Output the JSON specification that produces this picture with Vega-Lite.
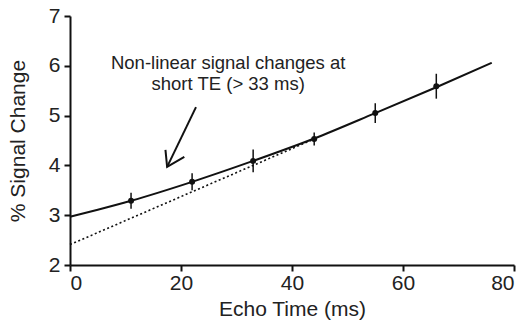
{
  "$schema": "https://vega.github.io/schema/vega-lite/v6.json",
  "width": 444,
  "height": 249,
  "autosize": {"type": "none"},
  "padding": {"left": 70, "top": 16, "right": 10, "bottom": 66},
  "background": "white",
  "config": {
    "view": {"stroke": null},
    "font": "Liberation Sans",
    "axis": {
      "grid": false,
      "domainColor": "#111",
      "domainWidth": 2,
      "tickColor": "#111",
      "tickWidth": 2,
      "tickSize": 6,
      "labelFont": "Liberation Sans",
      "labelFontSize": 21,
      "labelColor": "#222",
      "titleFont": "Liberation Sans",
      "titleFontSize": 21,
      "titleFontWeight": "normal",
      "titleColor": "#222"
    }
  },
  "datasets": {
    "points": [
      {"te": 11, "sig": 3.29, "lo": 3.13, "hi": 3.45},
      {"te": 22, "sig": 3.67, "lo": 3.5, "hi": 3.84},
      {"te": 33, "sig": 4.09, "lo": 3.86, "hi": 4.32},
      {"te": 44, "sig": 4.53, "lo": 4.4, "hi": 4.66},
      {"te": 55, "sig": 5.05, "lo": 4.85, "hi": 5.25},
      {"te": 66, "sig": 5.59, "lo": 5.34, "hi": 5.84}
    ],
    "fit": [
      {"te": 0, "sig": 2.97},
      {"te": 5, "sig": 3.11},
      {"te": 11, "sig": 3.29},
      {"te": 22, "sig": 3.67},
      {"te": 33, "sig": 4.09},
      {"te": 44, "sig": 4.54},
      {"te": 55, "sig": 5.05},
      {"te": 66, "sig": 5.57},
      {"te": 76, "sig": 6.06}
    ],
    "linear": [
      {"te": 0, "sig": 2.41},
      {"te": 44, "sig": 4.53}
    ],
    "arrow": [
      {"seg": "shaft", "ord": 1, "te": 22.7, "sig": 5.17},
      {"seg": "shaft", "ord": 2, "te": 17.5, "sig": 3.97},
      {"seg": "head", "ord": 1, "te": 17.2, "sig": 4.31},
      {"seg": "head", "ord": 2, "te": 17.5, "sig": 3.97},
      {"seg": "head", "ord": 3, "te": 20.6, "sig": 4.17}
    ],
    "labels": [
      {"te": 28.5, "sig": 6.05, "txt": "Non-linear signal changes at"},
      {"te": 28.5, "sig": 5.63, "txt": "short TE (> 33 ms)"}
    ]
  },
  "layer": [
    {
      "data": {"name": "fit"},
      "mark": {"type": "line", "interpolate": "monotone", "color": "#111", "strokeWidth": 2},
      "encoding": {
        "x": {"field": "te", "type": "quantitative", "scale": {"domain": [0, 80]},
              "axis": {"values": [0, 20, 40, 60, 80], "title": "Echo Time (ms)", "labelPadding": 1, "titlePadding": 5}},
        "y": {"field": "sig", "type": "quantitative", "scale": {"domain": [2, 7]},
              "axis": {"values": [2, 3, 4, 5, 6, 7], "title": "% Signal Change", "labelPadding": 4, "titlePadding": 20}}
      }
    },
    {
      "data": {"name": "linear"},
      "mark": {"type": "line", "color": "#111", "strokeWidth": 1.6, "strokeDash": [2, 2.5]},
      "encoding": {
        "x": {"field": "te", "type": "quantitative"},
        "y": {"field": "sig", "type": "quantitative"}
      }
    },
    {
      "data": {"name": "points"},
      "mark": {"type": "rule", "color": "#111", "strokeWidth": 1.5},
      "encoding": {
        "x": {"field": "te", "type": "quantitative"},
        "y": {"field": "lo", "type": "quantitative"},
        "y2": {"field": "hi"}
      }
    },
    {
      "data": {"name": "points"},
      "mark": {"type": "circle", "color": "#111", "opacity": 1, "size": 36},
      "encoding": {
        "x": {"field": "te", "type": "quantitative"},
        "y": {"field": "sig", "type": "quantitative"}
      }
    },
    {
      "data": {"name": "arrow"},
      "mark": {"type": "line", "color": "#111", "strokeWidth": 2},
      "encoding": {
        "x": {"field": "te", "type": "quantitative"},
        "y": {"field": "sig", "type": "quantitative"},
        "detail": {"field": "seg"},
        "order": {"field": "ord"}
      }
    },
    {
      "data": {"name": "labels"},
      "mark": {"type": "text", "font": "Liberation Sans", "fontSize": 18.5, "color": "#222", "align": "center", "baseline": "middle"},
      "encoding": {
        "x": {"field": "te", "type": "quantitative"},
        "y": {"field": "sig", "type": "quantitative"},
        "text": {"field": "txt"}
      }
    }
  ]
}
